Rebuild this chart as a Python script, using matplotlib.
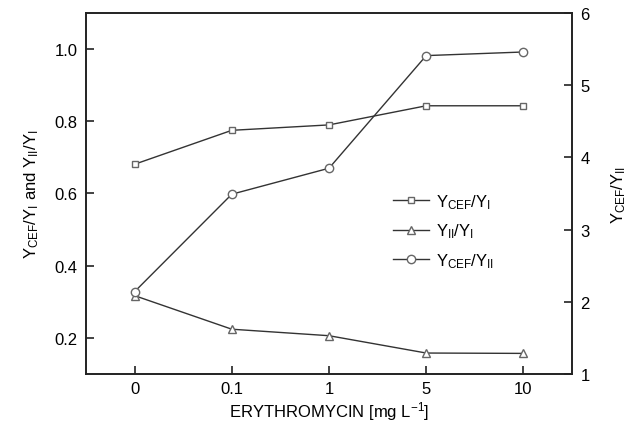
import matplotlib
matplotlib.use("Agg")
import matplotlib.pyplot as plt

plt.rcParams['font.family'] = ['Liberation Sans', 'DejaVu Sans']
plt.rcParams['mathtext.fontset'] = 'custom'
plt.rcParams['mathtext.rm'] = 'Liberation Sans'
plt.rcParams['mathtext.it'] = 'Liberation Sans'

# ====== Data ======
doses = ["0", "0.1", "1", "5", "10"]
cef_i = [0.681, 0.775, 0.790, 0.843, 0.843]      # Y_CEF/Y_I (left)
ii_i = [0.317, 0.224, 0.206, 0.158, 0.157]       # Y_II/Y_I (left)
cef_ii = [2.14, 3.49, 3.85, 5.41, 5.46]          # Y_CEF/Y_II (right)

x = list(range(len(doses)))
line_c = '#333333'
mark_c = '#666666'

# ====== Plot ======
fig = plt.figure(figsize=(6.37, 4.31), dpi=100)
ax = fig.add_axes([0.135, 0.13, 0.763, 0.8375])
ax2 = ax.twinx()

h1, = ax.plot(x, cef_i, color=line_c, lw=1, marker='s', ms=4.5, mfc='white',
              mec=mark_c, mew=1, label=r'$\mathrm{Y_{CEF}/Y_{I}}$')
h2, = ax.plot(x, ii_i, color=line_c, lw=1, marker='^', ms=6, mfc='white',
              mec=mark_c, mew=1, label=r'$\mathrm{Y_{II}/Y_{I}}$')
h3, = ax2.plot(x, cef_ii, color=line_c, lw=1, marker='o', ms=6, mfc='white',
               mec=mark_c, mew=1, label=r'$\mathrm{Y_{CEF}/Y_{II}}$')

ax.set_xlim(-0.5, 4.5)
ax.set_ylim(0.1, 1.1)
ax2.set_ylim(1, 6)
ax.set_xticks(x)
ax.set_xticklabels(doses)
ax.set_yticks([0.2, 0.4, 0.6, 0.8, 1.0])
ax2.set_yticks([1, 2, 3, 4, 5, 6])

for a in (ax, ax2):
    a.tick_params(direction='in', length=6, width=1.2, labelsize=12, color='#222222')
    for s in a.spines.values():
        s.set_linewidth(1.2)
        s.set_color('#222222')
ax.tick_params(axis='x', pad=5)
ax.tick_params(axis='y', pad=6)
ax2.tick_params(axis='y', pad=6)

ax.set_xlabel(r'ERYTHROMYCIN [mg L$^{-1}$]', fontsize=12, labelpad=2)
ax.set_ylabel(r'$\mathrm{Y_{CEF}/Y_{I}}$ and $\mathrm{Y_{II}/Y_{I}}$', fontsize=12, labelpad=10)
ax2.set_ylabel(r'$\mathrm{Y_{CEF}/Y_{II}}$', fontsize=12, labelpad=14)

ax.legend(handles=[h1, h2, h3], loc='upper left', bbox_to_anchor=(0.6, 0.545),
          frameon=False, fontsize=12, handlelength=2.2, handletextpad=0.4,
          labelspacing=0.65)

fig.savefig("out.png", dpi=100)
